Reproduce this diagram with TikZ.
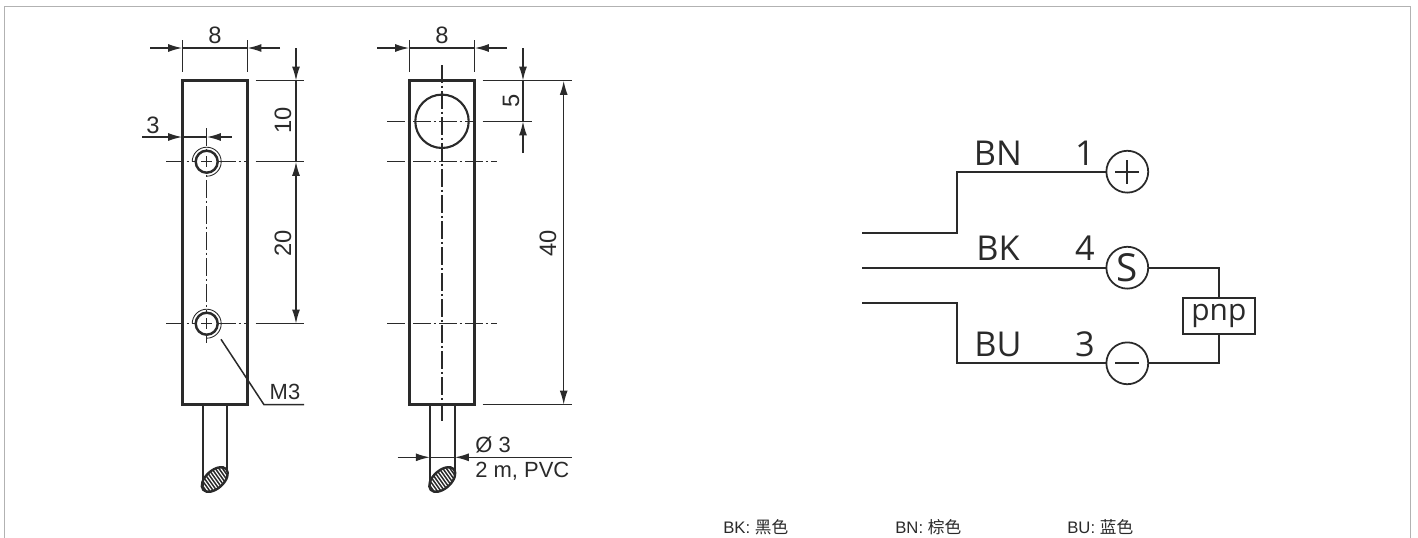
\documentclass[tikz,border=0pt]{standalone}
\usepackage{fontspec}
\setmainfont{Liberation Sans}
\newfontfamily\wirefont{Open Sans}
\newfontfamily\cjkfont{Noto Sans CJK SC}
\usetikzlibrary{arrows.meta}
\definecolor{inkdark}{HTML}{2A2A2A}
\tikzset{
  outline/.style={line width=1.7pt, inkdark},
  cableline/.style={line width=1.35pt, inkdark},
  thinline/.style={line width=0.85pt, inkdark},
  centerline/.style={line width=0.7pt, inkdark, dash pattern=on 10pt off 1.8pt on 1.2pt off 1.8pt},
  dimline/.style={thinline, -{Latex[length=8pt,width=4.5pt]}},
  dimboth/.style={thinline, {Latex[length=8pt,width=4.5pt]}-{Latex[length=8pt,width=4.5pt]}},
  dimtext/.style={inner sep=0pt, text=inkdark, font=\fontsize{12.5}{14}\selectfont},
  numtext/.style={dimtext, font=\fontsize{13.5}{15}\selectfont},
  wire/.style={line width=1pt, inkdark},
  wiretext/.style={inner sep=0pt, text=inkdark, anchor=base, font=\wirefont\fontsize{19.5}{22}\selectfont},
  pole/.style={circle, draw=inkdark, line width=1pt, minimum size=42*0.567pt, inner sep=0pt, text=inkdark, font=\wirefont\fontsize{22}{24}\selectfont},
  legend/.style={inner sep=0pt, anchor=base west, text=inkdark, font=\fontsize{9.5}{11}\selectfont}
}
\begin{document}
\begin{tikzpicture}[x=0.02cm, y=-0.02cm]
  \useasboundingbox (0,0) rectangle (1418,538);

  % Frame
    \draw[line width=0.85pt, gray!60] (4.5,538) -- (4.5,6.5) -- (1410.5,6.5) -- (1410.5,538);

  % Left view: body and cable
    \draw[outline] (182.3,80.7) rectangle (247.3,404.7);
    \draw[cableline] (202.7,404.7) -- (202.7,486);
    \draw[cableline] (227,404.7) -- (227,471);

  % Left view: center lines
    \draw[centerline] (206.7,128) -- (206.7,343);
    \foreach \y in {161.7,323.7} {
      \draw[centerline] (166,\y) -- (247.3,\y);
      \draw[outline, fill=white, line width=1.4pt] (206.7,\y) circle (11);
      \draw[thinline, line width=0.5pt, fill=none] (206.7,\y) ++(90:14.5) arc (90:-180:14.5);
      \draw[thinline, line width=0.6pt] (201,\y) -- (212.4,\y) (206.7,\y-5.7) -- (206.7,\y+5.7);
    }

  % Left view: dimensions
    \draw[thinline] (182.3,40) -- (182.3,72) (247.3,40) -- (247.3,72);
    \draw[dimline] (150,48) -- (182.3,48);
    \draw[dimline] (280,48) -- (247.3,48);
    \draw[thinline] (182.3,48) -- (247.3,48);
    \node[numtext] (widthA) at (215,35) {8};
    \draw[dimline] (142,137) -- (182.3,137);
    \draw[dimline] (231.7,137) -- (206.7,137);
    \draw[thinline] (182.3,137) -- (206.7,137);
    \node[numtext] (holeA) at (153,125) {3};
    \foreach \y in {80.7,161.7,323.7} {
      \draw[thinline] (255.7,\y) -- (304,\y);
    }
    \draw[dimline] (296,48) -- (296,80.7);
    \draw[thinline] (296,80.7) -- (296,161.7);
    \draw[dimboth] (296,161.7) -- (296,323.7);
    \node[numtext, rotate=90] (topA) at (283,120) {10};
    \node[numtext, rotate=90] (pitchA) at (283,243) {20};

  % Left view: thread leader
    \draw[thinline] (221,339.3) -- (264,404.7) -- (304,404.7);
    \node[dimtext] (thread) at (285,391.7) {M3};

  % Right view: body and cable
    \draw[outline] (409.3,80.7) rectangle (474.7,404.7);
    \draw[cableline] (430,404.7) -- (430,486);
    \draw[cableline] (454.7,404.7) -- (454.7,471);
    \draw[outline, line width=1.2pt] (442,121.3) circle (26.7);

  % Right view: center lines
    \draw[centerline] (442,65) -- (442,420.7);
    \foreach \y in {121.3} {
      \draw[centerline] (387,\y) -- (474.7,\y);
    }
    \foreach \y in {161.7,323.7} {
      \draw[centerline] (387,\y) -- (497,\y);
    }

  % Right view: dimensions
    \draw[thinline] (409.3,40) -- (409.3,72) (474.7,40) -- (474.7,72);
    \draw[dimline] (377,48) -- (409.3,48);
    \draw[dimline] (507,48) -- (474.7,48);
    \draw[thinline] (409.3,48) -- (474.7,48);
    \node[numtext] (widthB) at (442,35) {8};
    \draw[thinline] (482.7,80.7) -- (571.7,80.7) (482.7,121.3) -- (532,121.3) (482.7,404.7) -- (571.7,404.7);
    \draw[dimline] (523,48) -- (523,80.7);
    \draw[dimline] (523,153) -- (523,121.3);
    \draw[thinline] (523,80.7) -- (523,121.3);
    \node[numtext, rotate=90] (topB) at (511,101) {5};
    \draw[dimboth] (563.7,80.7) -- (563.7,404.7);
    \node[numtext, rotate=90] (lengthB) at (548,243) {40};
    \draw[dimline] (397.7,457.3) -- (430,457.3);
    \draw[dimline] (571.7,457.3) -- (454.7,457.3);
    \draw[thinline] (430,457.3) -- (454.7,457.3);
    \node[dimtext, anchor=west] (cableA) at (475,444.7) {Ø 3};
    \node[dimtext, anchor=west] (cableB) at (475,471.7) {2 m, PVC};

  % Cable ends
    \foreach \x in {214.8,442.3} {
      \begin{scope}[shift={(\x,479.5)}]
        \begin{scope}
          \clip[rotate=42] (0,0) ellipse (15.5 and 9);
          \foreach \s in {-24,-20.4,...,24} {
            \draw[line width=0.85pt, inkdark] (\s-10,-14) -- (\s+10,14);
          }
        \end{scope}
        \draw[cableline, rotate=42] (0,0) ellipse (15.5 and 9);
      \end{scope}
    }

  % Connection diagram
    \node[pole] (plus) at (1127.3,171.7) {};
    \node[pole] (sig) at (1127.3,267.7) {S};
    \node[pole] (minus) at (1127.3,363.3) {};
    \node[draw=inkdark, line width=1pt, minimum width=72.3*0.567pt, minimum height=36.3*0.567pt, inner sep=0pt, text=inkdark, font=\wirefont\fontsize{17}{20}\selectfont] (pnp) at (1218.9,315.8) {pnp};
    \coordinate (endBN) at (862,232.7);
    \coordinate (endBK) at (862,267.7);
    \coordinate (endBU) at (862,303.3);
    \coordinate (kneeBN) at (956.7,232.7);
    \coordinate (kneeBU) at (956.7,303.3);
    \draw[wire] (endBN) -- (kneeBN) |- (plus);
    \draw[wire] (endBK) -- (sig);
    \draw[wire] (endBU) -- (kneeBU) |- (minus);
    \draw[wire] (sig) -| (pnp);
    \draw[wire] (minus) -| (pnp);
    \draw[wire] ([xshift=-12*0.567pt]plus.center) -- ([xshift=12*0.567pt]plus.center);
    \draw[wire] ([yshift=-12*0.567pt]plus.center) -- ([yshift=12*0.567pt]plus.center);
    \draw[wire] ([xshift=-12*0.567pt]minus.center) -- ([xshift=12*0.567pt]minus.center);

  % Wire labels
    \node[wiretext] (labelBN) at (998,165) {BN};
    \node[wiretext] (labelBK) at (998,260.7) {BK};
    \node[wiretext] (labelBU) at (998,356) {BU};
    \node[wiretext] (pinA) at (1085,165) {1};
    \node[wiretext] (pinB) at (1085,260.7) {4};
    \node[wiretext] (pinC) at (1085,356) {3};

  % Colour legend
    \node[legend] (keyBK) at (723,533) {BK: {\cjkfont 黑色}};
    \node[legend] (keyBN) at (895,533) {BN: {\cjkfont 棕色}};
    \node[legend] (keyBU) at (1067,533) {BU: {\cjkfont 蓝色}};
\end{tikzpicture}
\end{document}
